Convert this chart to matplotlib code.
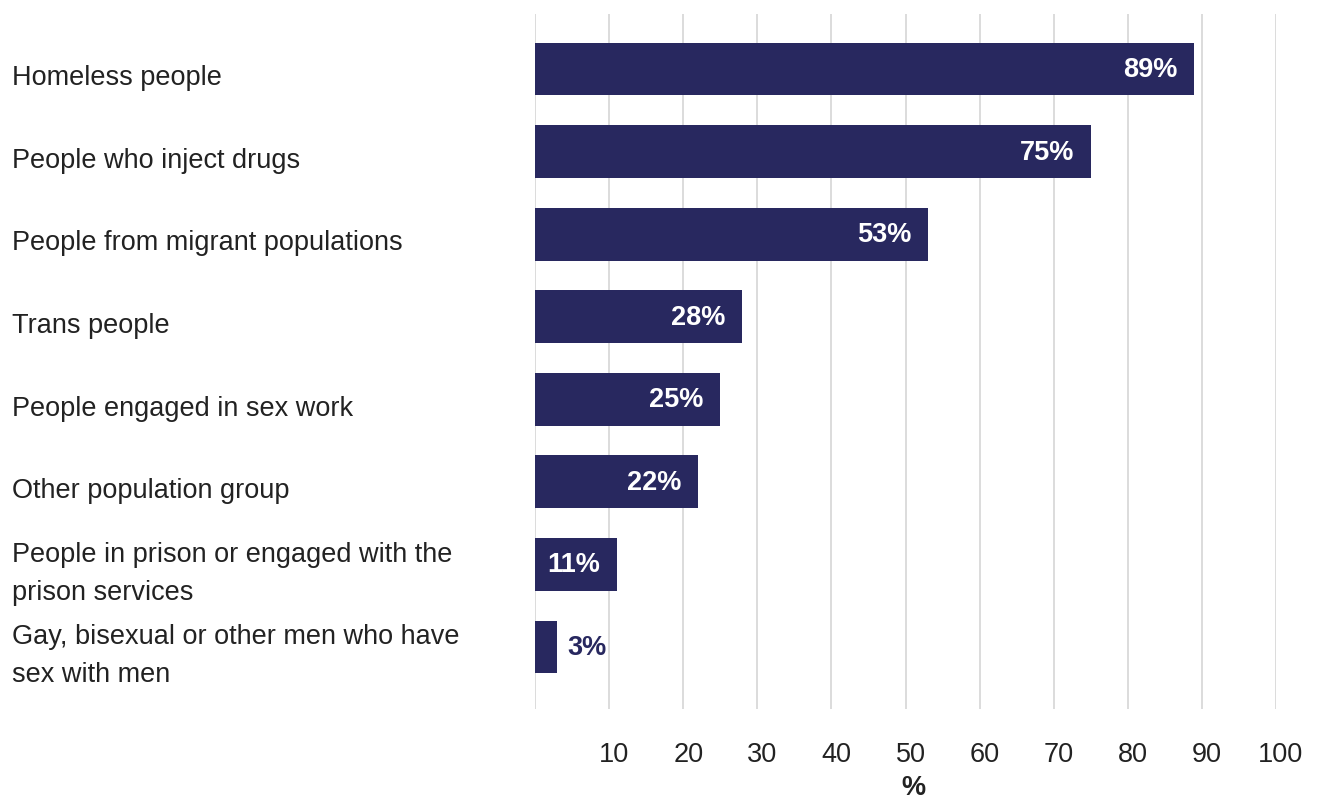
import matplotlib.pyplot as plt
from matplotlib import transforms

plt.rcParams['font.family'] = ['Liberation Sans', 'DejaVu Sans']

groups = ['Homeless people',
          'People who inject drugs',
          'People from migrant populations',
          'Trans people',
          'People engaged in sex work',
          'Other population group',
          'People in prison or engaged with the\nprison services',
          'Gay, bisexual or other men who have\nsex with men']
pct = [89, 75, 53, 28, 25, 22, 11, 3]
xticks = [10, 20, 30, 40, 50, 60, 70, 80, 90, 100]

navy = '#28285f'
textc = '#222222'

fig = plt.figure(figsize=(13.25, 8.03), dpi=100)
ax = fig.add_axes([535/1325, 1-710/803, (1276-535)/1325, (710-15)/803])

y = list(range(len(groups)))
ax.barh(y, pct, height=0.64, color=navy, zorder=3)

ax.set_xlim(0, 100)
ax.set_ylim(7.75, -0.666)
ax.set_xticks(xticks)
ax.set_xticklabels([str(t) for t in xticks], fontsize=19.5, color=textc)
ax.tick_params(axis='x', length=0, pad=23)
for lab in ax.get_xticklabels():
    lab.set_transform(lab.get_transform() + transforms.ScaledTranslation(5/100, 0, fig.dpi_scale_trans))
ax.set_yticks([])
ax.grid(axis='x', color='#d6d6d6', lw=1.2, zorder=0)
ax.axvline(0, color='#d6d6d6', lw=1.2, zorder=0)
for s in ax.spines.values():
    s.set_visible(False)

# category names down the left edge
trans = transforms.blended_transform_factory(fig.transFigure, ax.transData)
for yi, g in zip(y, groups):
    ax.text(12/1325, yi + 0.1, g, transform=trans, ha='left', va='center',
            fontsize=19.5, color=textc, linespacing=1.6)

# value labels: inside the bar in white, outside for short bars
for yi, v in zip(y, pct):
    if v >= 8:
        ax.annotate(f'{v}%', (v, yi), xytext=(-12, 0), textcoords='offset points',
                    ha='right', va='center', fontsize=19.5, fontweight='bold', color='white')
    else:
        ax.annotate(f'{v}%', (v, yi), xytext=(7, 0), textcoords='offset points',
                    ha='left', va='center', fontsize=19.5, fontweight='bold', color=navy)

fig.text(913/1325, 1-795/803, '%', ha='center', va='baseline',
         fontsize=19.5, fontweight='bold', color=textc)

fig.savefig('out.png', dpi=100, facecolor='white')
